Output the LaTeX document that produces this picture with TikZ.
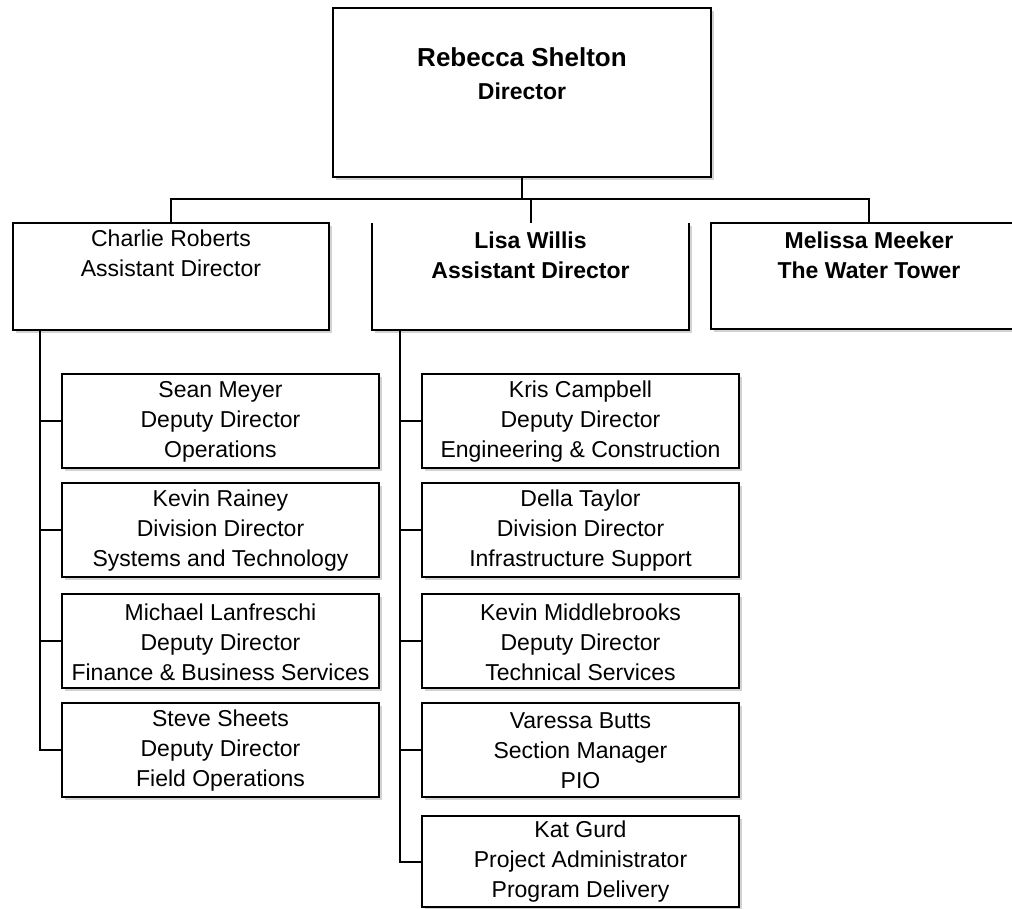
\documentclass[tikz,border=0pt]{standalone}
\usepackage{fontspec}
\setmainfont{Liberation Sans}
\usetikzlibrary{shadows,calc}
\begin{document}
\begin{tikzpicture}[x=1pt,y=-1pt,
  box/.style={draw=black, line width=2pt, fill=white, inner sep=0pt, outer sep=0pt,
    anchor=north west,
    drop shadow={shadow xshift=3pt, shadow yshift=-3pt, fill=black!35}},
  openbox/.style={draw=none, fill=white, inner sep=0pt, outer sep=0pt,
    anchor=north west,
    drop shadow={shadow xshift=3pt, shadow yshift=-3pt, fill=black!35}},
  conn/.style={draw=black, line width=2pt},
  txt/.style={align=center, inner sep=0pt, font=\fontsize{23}{30}\selectfont},
  btxt/.style={txt, font=\fontsize{23}{30}\selectfont\bfseries},
  sub/.style={box, minimum width=317pt, minimum height=94pt}
]
\useasboundingbox (0,0) rectangle (1012,908);
\clip (0,0) rectangle (1012,908);

% Director
\node[box, minimum width=378pt, minimum height=169pt] (dir) at (333,8) {};
\node[align=center, inner sep=0pt, font=\fontsize{23}{33}\selectfont\bfseries] (dirt) at (522,74)
  {{\fontsize{26}{33}\selectfont Rebecca Shelton}\\Director};

% Level 2
\node[box, minimum width=316pt, minimum height=107pt] (cr) at (13,223) {};
\node[txt] (crt) at (171,253) {Charlie Roberts\\Assistant Director};

\node[openbox, minimum width=317pt, minimum height=107pt] (lw) at (372,223) {};
\draw[line width=2pt] (lw.north west) -- (lw.south west) -- (lw.south east) -- (lw.north east);
\node[btxt] (lwt) at (530.5,255) {Lisa Willis\\Assistant Director};

\node[box, minimum width=316pt, minimum height=106pt] (mm) at (711,223) {};
\node[btxt] (mmt) at (869,255) {Melissa Meeker\\The Water Tower};

% Level 3 left
\node[sub] (sm) at (62,374) {};
\node[txt] (smt) at ($(sm.center)+(0,1)$) {Sean Meyer\\Deputy Director\\Operations};
\node[sub] (kr) at (62,483) {};
\node[txt] (krt) at ($(kr.center)+(0,1)$) {Kevin Rainey\\Division Director\\Systems and Technology};
\node[sub] (ml) at (62,594) {};
\node[txt] (mlt) at ($(ml.center)+(0,1)$) {Michael Lanfreschi\\Deputy Director\\Finance \& Business Services};
\node[sub] (ss) at (62,703) {};
\node[txt] (sst) at ($(ss.center)+(0,1)$) {Steve Sheets\\Deputy Director\\Field Operations};

% Level 3 right
\node[sub] (kc) at (422,374) {};
\node[txt] (kct) at ($(kc.center)+(0,1)$) {Kris Campbell\\Deputy Director\\Engineering \& Construction};
\node[sub] (dt) at (422,483) {};
\node[txt] (dtt) at ($(dt.center)+(0,1)$) {Della Taylor\\Division Director\\Infrastructure Support};
\node[sub] (km) at (422,594) {};
\node[txt] (kmt) at ($(km.center)+(0,1)$) {Kevin Middlebrooks\\Deputy Director\\Technical Services};
\node[sub] (vb) at (422,703) {};
\node[txt] (vbt) at ($(vb.center)+(0,1)$) {Varessa Butts\\Section Manager\\PIO};
\node[sub, minimum height=91pt] (kg) at (422,816) {};
\node[txt] (kgt) at ($(kg.center)+(0,0)$) {Kat Gurd\\Project Administrator\\Program Delivery};

% Connectors
\coordinate (bar) at (0,199);
\coordinate (lsp) at (40,330);
\coordinate (rsp) at (400,330);
\draw[conn] (dir.south) -- (dir.south |- bar);
\draw[conn] (cr.north) -- (cr.north |- bar) -| (mm.north);
\draw[conn] (lw.north) -- (lw.north |- bar);

\draw[conn] (lsp) |- (ss.west);
\draw[conn] (sm.west) -- (sm.west -| lsp);
\draw[conn] (kr.west) -- (kr.west -| lsp);
\draw[conn] (ml.west) -- (ml.west -| lsp);

\draw[conn] (rsp) |- (kg.west);
\draw[conn] (kc.west) -- (kc.west -| rsp);
\draw[conn] (dt.west) -- (dt.west -| rsp);
\draw[conn] (km.west) -- (km.west -| rsp);
\draw[conn] (vb.west) -- (vb.west -| rsp);
\end{tikzpicture}
\end{document}
